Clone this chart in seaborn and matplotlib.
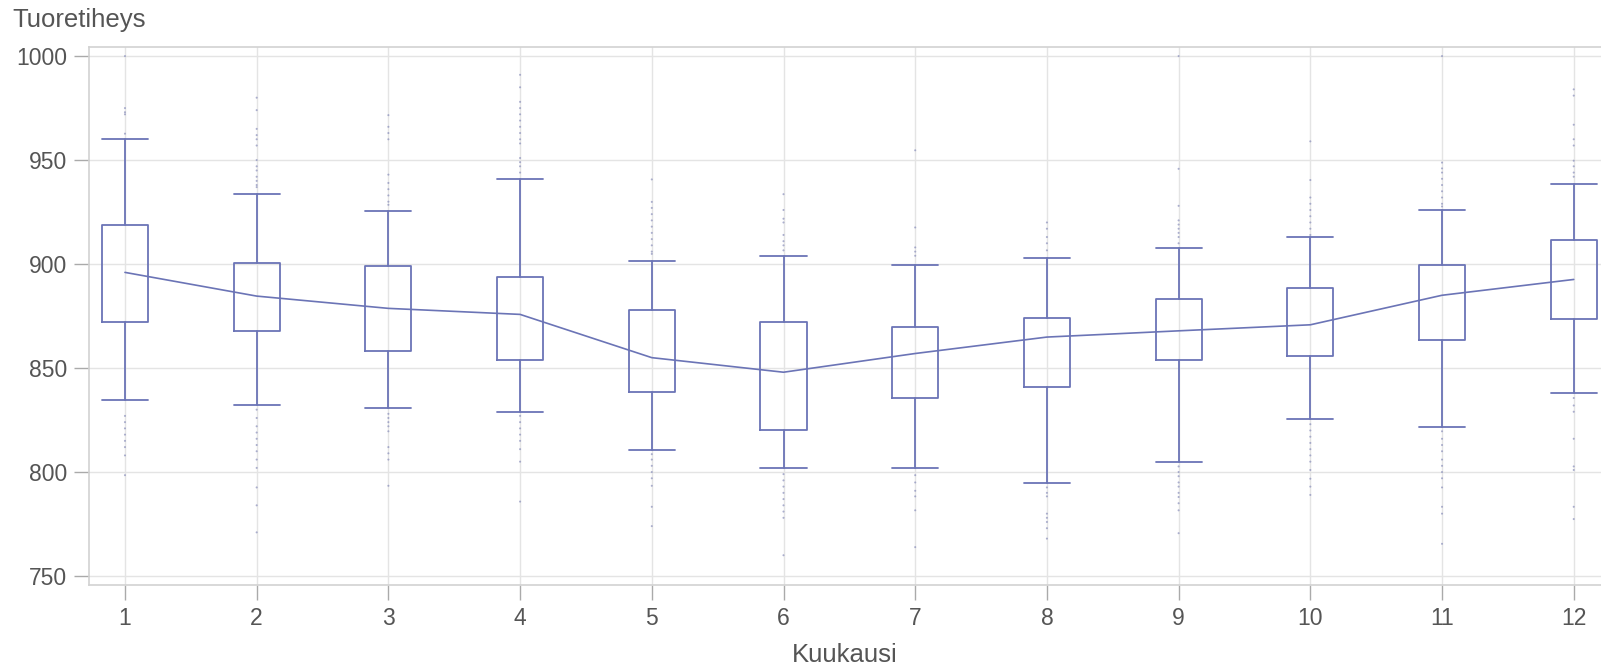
import matplotlib
matplotlib.use("Agg")
import matplotlib.pyplot as plt
import seaborn as sns
import pandas as pd

# ---- data ----
months = [1, 2, 3, 4, 5, 6, 7, 8, 9, 10, 11, 12]
whisker_low = [834.6, 832.0, 830.6, 828.9, 810.8, 801.9, 801.9, 794.8, 804.9, 825.5, 821.6, 837.8]
q1 = [872.0, 868.0, 858.0, 853.9, 838.5, 820.4, 835.8, 841.0, 853.9, 855.6, 863.5, 873.6]
q3 = [918.9, 900.7, 899.0, 893.6, 877.7, 872.0, 869.9, 874.3, 883.4, 888.7, 899.5, 911.8]
whisker_high = [960.0, 933.6, 925.7, 940.7, 901.5, 904.0, 899.7, 902.7, 907.8, 913.0, 925.8, 938.7]
means = [896.0, 884.6, 878.7, 875.8, 855.0, 848.0, 857.0, 864.9, 867.9, 870.8, 885.0, 892.6]

outliers = {
    1: [1000, 975, 973, 972, 962.7, 827, 824, 821, 818, 815, 812, 808, 798.5],
    2: [980, 974, 965, 962, 960, 957, 950, 947, 945, 942, 940, 938, 937,
        830, 826, 822, 819, 816, 813, 810, 806, 802, 792.6, 784, 771],
    3: [971.6, 966, 963, 960, 943, 939, 936, 933, 930, 928.5,
        828, 826, 824, 822, 819.6, 812, 809, 806, 793.4],
    4: [991, 985, 978, 975, 972, 969, 966, 963, 960, 958, 951, 949, 947, 944,
        827, 824, 821, 818, 815, 811, 805, 785.8],
    5: [940.7, 929.9, 927, 924, 921, 918, 915, 912, 909, 906, 904.9,
        808.6, 806, 803, 800, 797, 793.4, 783.3, 774],
    6: [933.6, 926, 921.8, 920, 914, 911, 909, 906.6,
        799, 796, 793, 790, 787, 784, 781, 778, 760],
    7: [954.7, 917.6, 908, 906, 904, 798.5, 795, 791, 788.3, 781.6, 763.9],
    8: [920, 917, 913, 910, 906.6, 792.6, 790, 788.3, 780, 778, 776, 773, 768],
    9: [1000, 945.8, 928, 921, 919, 917, 915, 913, 910,
        802.7, 800, 798, 795, 793, 790, 788, 785, 781.6, 770.6],
    10: [959, 940.4, 932, 929, 926, 923, 920, 917, 914,
         823, 820, 817, 814, 811, 808, 805, 801, 796.8, 793, 789],
    11: [1000, 948.8, 946, 944, 941, 938, 935, 932, 929, 927.7,
         819.6, 816, 813, 810, 806, 803, 800, 797, 792.6, 783.3, 780, 765.5],
    12: [984, 981, 967, 960, 957, 949.7, 947, 944, 942,
         835.6, 832, 829, 816, 802.7, 801, 783.3, 777.4],
}

y_ticks = [750, 800, 850, 900, 950, 1000]

# ---- style ----
sns.set_theme(style="white")
plt.rcParams["font.family"] = ["Liberation Sans", "DejaVu Sans"]

box_color = "#6b74b6"
text_color = "#555555"
grid_color = "#e4e4e4"
spine_color = "#d2d2d2"

fig = plt.figure(figsize=(16.01, 6.64), dpi=100)
ax = fig.add_axes([0.0556, 0.119, 0.9444, 0.810])

# grid
ax.set_axisbelow(True)
for m in months:
    ax.axvline(m, color=grid_color, lw=1.0, zorder=0)
for t in y_ticks:
    ax.axhline(t, color=grid_color, lw=1.0, zorder=0)

# boxes (pre-computed stats)
stats = []
for i, m in enumerate(months):
    stats.append(dict(med=means[i], q1=q1[i], q3=q3[i],
                      whislo=whisker_low[i], whishi=whisker_high[i],
                      fliers=[], label=str(m)))
ax.bxp(stats, positions=months, widths=0.35, capwidths=0.35, showfliers=False,
       boxprops=dict(color=box_color, lw=1.3),
       whiskerprops=dict(color=box_color, lw=1.3),
       capprops=dict(color=box_color, lw=1.3),
       medianprops=dict(visible=False),
       manage_ticks=False)

# outliers
out_df = pd.DataFrame([(m, v) for m, vals in outliers.items() for v in vals],
                      columns=["Kuukausi", "Tuoretiheys"])
sns.scatterplot(data=out_df, x="Kuukausi", y="Tuoretiheys", ax=ax,
                s=2.2, color="#8a8fbb", edgecolor="none", alpha=0.7, zorder=3,
                legend=False)

# mean line
mean_df = pd.DataFrame({"Kuukausi": months, "Tuoretiheys": means})
sns.lineplot(data=mean_df, x="Kuukausi", y="Tuoretiheys", ax=ax,
             color=box_color, lw=1.2, zorder=4)

ax.set_xlim(0.727, 12.207)
ax.set_ylim(745.7, 1004.3)
ax.set_xticks(months)
ax.set_xticklabels([str(m) for m in months])
ax.set_yticks(y_ticks)

for s in ["left", "bottom", "top"]:
    ax.spines[s].set_color(spine_color)
    ax.spines[s].set_linewidth(1.2)
ax.spines["right"].set_visible(False)

ax.tick_params(axis="both", which="both", length=11, width=1.0,
               color="#aaaaaa", labelcolor=text_color, labelsize=16.5, pad=5,
               direction="out", bottom=True, left=True)

ax.set_ylabel("")
ax.set_xlabel("Kuukausi", fontsize=18.5, color=text_color, labelpad=9)
fig.text(12 / 1601, 1 - 8 / 664, "Tuoretiheys", fontsize=18.5, color=text_color,
         ha="left", va="top")

fig.savefig("out.png", dpi=100)
